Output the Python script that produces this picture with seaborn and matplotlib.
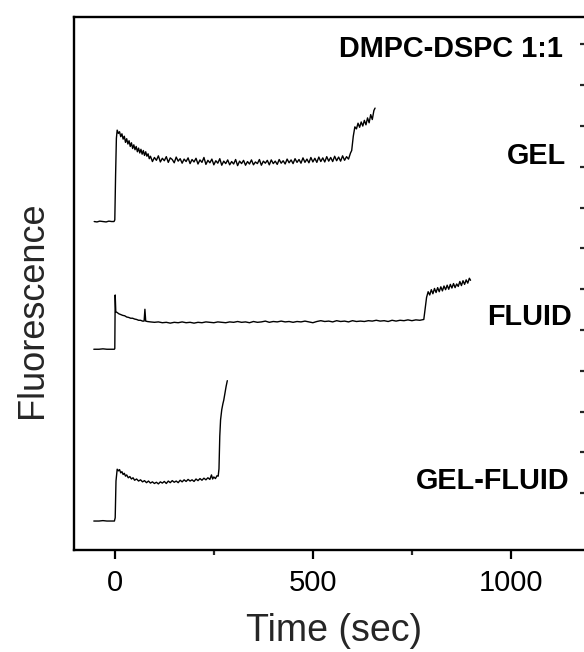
import numpy as np
import pandas as pd
import matplotlib
matplotlib.use("Agg")
import matplotlib.pyplot as plt
from matplotlib.ticker import FixedLocator
import seaborn as sns

# ---------------- data ----------------
gel_t = [-52, -45, -38, -30, -22, -15, -8, -2, 0, 2, 4, 6, 9, 12, 15, 18, 21, 24, 27, 30,
         33, 36, 39, 42, 45, 48, 51, 54, 57, 60, 63, 66, 69, 72, 75, 78, 81, 84, 87,
         90, 95, 100, 105, 110, 115, 120, 125, 130, 135, 140, 145, 150, 155, 160, 165,
         170, 175, 180, 185, 190, 195, 200, 205, 210, 215, 220, 225, 230, 235, 240, 245,
         250, 255, 260, 265, 270, 275, 280, 285, 290, 295, 300, 305, 310, 315, 320, 325,
         330, 335, 340, 345, 350, 355, 360, 365, 370, 375, 380, 385, 390, 395, 400, 405,
         410, 415, 420, 425, 430, 435, 440, 445, 450, 455, 460, 465, 470, 475, 480, 485,
         490, 495, 500, 505, 510, 515, 520, 525, 530, 535, 540, 545, 550, 555, 560, 565,
         570, 575, 580, 585, 590, 595, 598, 602, 606, 610, 614, 618, 622, 626, 630, 634,
         638, 642, 646, 650, 654, 657]
gel_f = [6.66, 6.65, 6.67, 6.66, 6.65, 6.67, 6.66, 6.66, 6.70, 7.80, 8.70, 8.90, 8.82, 8.86,
         8.74, 8.81, 8.68, 8.75, 8.60, 8.69, 8.56, 8.64, 8.50, 8.59, 8.45, 8.54, 8.42, 8.50,
         8.37, 8.46, 8.34, 8.43, 8.31, 8.40, 8.28, 8.37, 8.26, 8.32, 8.20,
         8.26, 8.13, 8.23, 8.16, 8.27, 8.12, 8.21, 8.15, 8.25, 8.11, 8.22, 8.18, 8.10, 8.24,
         8.14, 8.20, 8.09, 8.19, 8.13, 8.22, 8.08, 8.18, 8.12, 8.21, 8.07, 8.17, 8.11, 8.23,
         8.06, 8.16, 8.10, 8.19, 8.05, 8.15, 8.09, 8.20, 8.04, 8.14, 8.08, 8.17, 8.05, 8.13,
         8.07, 8.18, 8.03, 8.14, 8.08, 8.16, 8.04, 8.13, 8.07, 8.17, 8.05, 8.12, 8.08, 8.18,
         8.04, 8.14, 8.09, 8.16, 8.05, 8.17, 8.08, 8.14, 8.06, 8.18, 8.09, 8.15, 8.07, 8.19,
         8.10, 8.17, 8.08, 8.20, 8.11, 8.18, 8.09, 8.22, 8.11, 8.19, 8.10, 8.23, 8.12, 8.21,
         8.11, 8.24, 8.13, 8.22, 8.12, 8.25, 8.14, 8.23, 8.13, 8.26, 8.15, 8.24, 8.14, 8.27,
         8.16, 8.25, 8.19, 8.34, 8.40, 8.75, 8.98, 8.93, 9.07, 8.97, 9.10, 9.00, 9.14, 9.03,
         9.20, 9.08, 9.28, 9.16, 9.38, 9.44]

fluid_t = [-53, -40, -30, -20, -10, -1, 0, 1, 2.5, 6, 10, 15, 20, 25, 30, 35, 40, 45, 50, 55,
           60, 65, 70, 74, 76, 78, 82, 90, 100, 110, 120, 130, 140, 150, 160, 170, 180, 190,
           200, 210, 220, 230, 240, 250, 260, 270, 280, 290, 300, 310, 320, 330, 340, 350,
           360, 370, 380, 390, 400, 410, 420, 430, 440, 450, 460, 470, 480, 490, 500, 510,
           520, 530, 540, 550, 560, 570, 580, 590, 600, 610, 620, 630, 640, 650, 660, 670,
           680, 690, 700, 710, 720, 730, 740, 750, 760, 770, 780, 783, 787, 791, 795, 799,
           803, 807, 811, 815, 819, 823, 827, 831, 835, 839, 843, 847, 851, 855, 859, 863,
           867, 871, 875, 879, 883, 887, 891, 895, 898]
fluid_f = [3.53, 3.53, 3.54, 3.53, 3.53, 3.53, 3.55, 4.86, 4.45, 4.43, 4.40, 4.38, 4.36, 4.35,
           4.32, 4.31, 4.29, 4.29, 4.27, 4.26, 4.24, 4.24, 4.22, 4.22, 4.51, 4.22, 4.21, 4.20,
           4.19, 4.20, 4.18, 4.19, 4.17, 4.19, 4.18, 4.20, 4.18, 4.19, 4.17, 4.19, 4.18, 4.20,
           4.19, 4.18, 4.20, 4.19, 4.18, 4.20, 4.19, 4.21, 4.19, 4.20, 4.18, 4.21, 4.19, 4.20,
           4.22, 4.19, 4.21, 4.20, 4.22, 4.20, 4.21, 4.19, 4.21, 4.20, 4.22, 4.20, 4.18, 4.21,
           4.23, 4.21, 4.22, 4.20, 4.23, 4.21, 4.22, 4.20, 4.23, 4.21, 4.22, 4.21, 4.23, 4.22,
           4.24, 4.22, 4.23, 4.21, 4.24, 4.22, 4.24, 4.23, 4.25, 4.23, 4.25, 4.24, 4.26, 4.49,
           4.80, 4.94, 4.86, 4.99, 4.89, 5.02, 4.92, 5.04, 4.94, 5.06, 4.96, 5.08, 4.99, 5.10,
           5.00, 5.12, 5.03, 5.14, 5.04, 5.13, 5.07, 5.19, 5.09, 5.21, 5.12, 5.23, 5.15, 5.27,
           5.22]

gf_t = [-53, -40, -30, -20, -10, -1, 1, 3, 6, 9, 12, 15, 18, 21, 24, 27, 30, 34, 38, 42, 46,
        50, 55, 60, 65, 70, 75, 80, 85, 90, 95, 100, 105, 110, 115, 120, 125, 130, 135, 140,
        145, 150, 155, 160, 165, 170, 175, 180, 185, 190, 195, 200, 205, 210, 215, 220, 225,
        230, 235, 240, 244, 247, 250, 254, 258, 261, 263, 265, 267, 270, 273, 275, 278, 281,
        284]
gf_f = [-0.68, -0.68, -0.67, -0.68, -0.68, -0.68, -0.60, 0.30, 0.59, 0.55, 0.58, 0.50, 0.53,
        0.46, 0.49, 0.42, 0.45, 0.38, 0.41, 0.35, 0.38, 0.32, 0.35, 0.30, 0.33, 0.28, 0.31,
        0.26, 0.30, 0.25, 0.28, 0.24, 0.27, 0.23, 0.28, 0.25, 0.29, 0.24, 0.30, 0.26, 0.31,
        0.27, 0.30, 0.26, 0.32, 0.28, 0.33, 0.29, 0.34, 0.30, 0.33, 0.29, 0.35, 0.31, 0.36,
        0.32, 0.37, 0.33, 0.38, 0.34, 0.45, 0.35, 0.40, 0.36, 0.43, 0.42, 0.60, 1.40, 1.80,
        2.05, 2.20, 2.28, 2.45, 2.62, 2.76]

trace_labels = ["DMPC-DSPC 1:1", "GEL", "FLUID", "GEL-FLUID"]
x_ticks = [0, 500, 1000]
x_minor = [250, 750]
y_ticks = list(range(0, 12))

# ---------------- figure ----------------
sns.set_style("ticks")
plt.rcParams["font.family"] = ["Liberation Sans", "DejaVu Sans"]

W, H = 584, 652
fig = plt.figure(figsize=(W / 100, H / 100), dpi=100)
ax = fig.add_axes([74 / W, 102 / H, (587 - 74) / W, (550 - 16.7) / H])

for t, f in [(gel_t, gel_f), (fluid_t, fluid_f), (gf_t, gf_f)]:
    df = pd.DataFrame({"t": t, "f": f})
    sns.lineplot(data=df, x="t", y="f", ax=ax, color="black", lw=1.0,
                 estimator=None, sort=False)

ax.set_xlim(-103, 1192)
ax.set_ylim(-1.39, 11.68)

for s in ax.spines.values():
    s.set_linewidth(1.7)
    s.set_color("black")

ax.xaxis.set_major_locator(FixedLocator(x_ticks))
ax.xaxis.set_minor_locator(FixedLocator(x_minor))
ax.set_xticklabels([str(v) for v in x_ticks])
ax.tick_params(axis="x", which="major", direction="out", length=6.5, width=1.6,
               labelsize=21, pad=7, colors="black")
ax.tick_params(axis="x", which="minor", direction="out", length=3.5, width=1.6)

ax.yaxis.tick_right()
ax.yaxis.set_major_locator(FixedLocator(y_ticks))
ax.tick_params(axis="y", which="major", direction="in", length=5, width=1.6,
               labelright=False, labelleft=False, left=False, right=True)
ax.tick_params(axis="y", which="minor", left=False, right=False)

ax.set_xlabel("Time (sec)", fontsize=27)
ax.set_ylabel("Fluorescence", fontsize=26)
ax.xaxis.label.set_va("baseline")
ax.xaxis.set_label_coords(334 / W, (652 - 641) / H, transform=fig.transFigure)
ax.yaxis.set_label_position("left")
ax.yaxis.label.set_va("baseline")
ax.yaxis.label.set_rotation_mode("anchor")
ax.yaxis.set_label_coords(42 / W, (652 - 310) / H, transform=fig.transFigure)

label_x = [1130, 1140, 1155, 1149]
label_y = [10.69, 8.07, 4.12, 0.105]
for txt, lx, ly in zip(trace_labels, label_x, label_y):
    ax.text(lx, ly, txt, ha="right", va="baseline", fontsize=20.8,
            fontweight="bold", color="black")

fig.savefig("out.png", dpi=100)
